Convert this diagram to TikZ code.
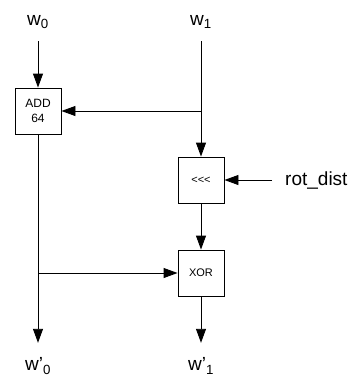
\documentclass[tikz,border=0pt]{standalone}
\usepackage{fontspec}
\setmainfont{Liberation Sans}
\usetikzlibrary{arrows.meta}

\begin{document}
\begin{tikzpicture}[x=1pt,y=-1pt,
    op/.style={draw, line width=0.9pt, minimum size=46pt, inner sep=0pt, align=center},
    wlabel/.style={inner sep=0pt, minimum height=38pt, font=\fontsize{19}{21}\selectfont},
    flow/.style={line width=0.9pt, -{Triangle[length=14pt,width=10pt]}}]
  \useasboundingbox (0,0) rectangle (350,376);
  % input words and the three operations
  \node[wlabel] (w0) at (38,22) {w\textsubscript{0}};
  \node[wlabel] (w1) at (201,22) {w\textsubscript{1}};
  \node[op, font=\fontsize{12}{15}\selectfont] (add) at (38,111) {ADD\\64};
  \node[op, font=\fontsize{11}{13}\selectfont] (rot) at (201,180) {<{}<{}<};
  \node[op, font=\fontsize{11}{13}\selectfont] (xor) at (201,273) {XOR};
  \node[font=\fontsize{19}{21}\selectfont, anchor=west, inner xsep=13pt, inner ysep=0pt] (rotd) at (272,180) {rot\_dist};
  \node[wlabel, minimum height=46pt] (w0o) at (38,366) {w'\textsubscript{0}};
  \node[wlabel, minimum height=46pt] (w1o) at (201,366) {w'\textsubscript{1}};

  \coordinate (tap1) at (w1 |- add);
  \coordinate (tap0) at (w0 |- xor);

  \draw[flow] (w0) -- (add);
  \draw[flow] (w1) -- (rot);
  \draw[flow] (tap1) -- (add);
  \draw[flow] (rotd) -- (rot);
  \draw[flow] (rot) -- (xor);
  \draw[flow] (add) -- (w0o);
  \draw[flow] (tap0) -- (xor);
  \draw[flow] (xor) -- (w1o);
\end{tikzpicture}
\end{document}
